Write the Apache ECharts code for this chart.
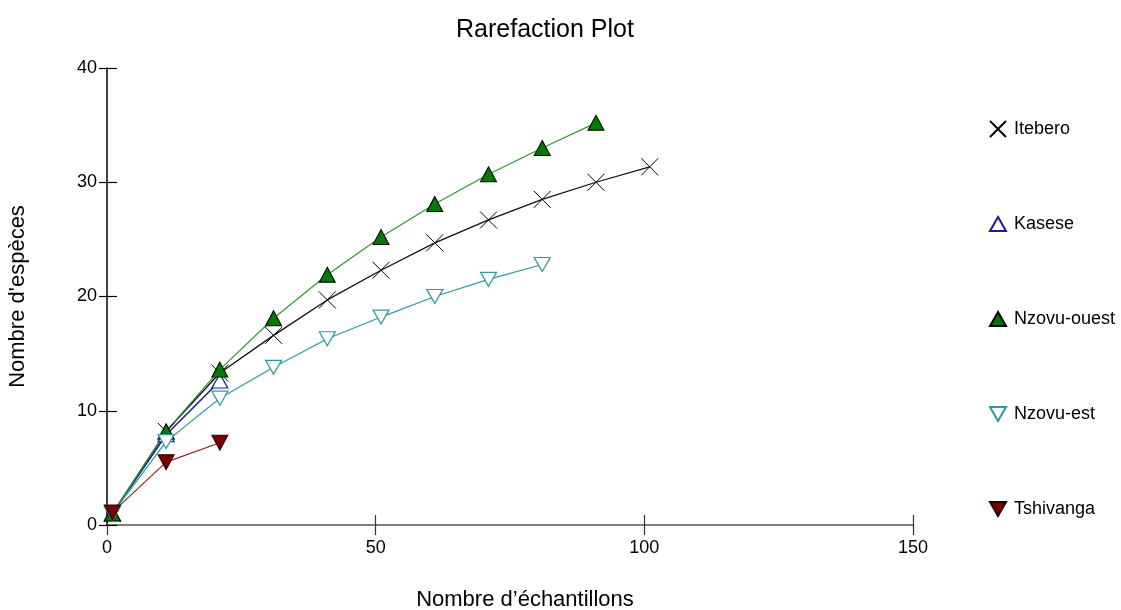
<!DOCTYPE html>
<html>
<head>
<meta charset="utf-8">
<script src="https://cdn.jsdelivr.net/npm/echarts@6/dist/echarts.min.js"></script>
<style>
  html, body { margin: 0; padding: 0; background: #fff; }
  #chart { width: 1121px; height: 610px; }
</style>
</head>
<body>
<div id="chart"></div>
<script>
// samples drawn (x) for each site
const samples = [1, 11, 21, 31, 41, 51, 61, 71, 81, 91, 101];

const itebero = [1, 8.2, 13.3, 16.6, 19.7, 22.3, 24.7, 26.7, 28.5, 30.0, 31.35];
const kasese = [1, 7.9, 12.6];
const nzovuOuest = [1, 8.2, 13.6, 18.1, 21.9, 25.2, 28.1, 30.7, 33.0, 35.2];
const nzovuEst = [1, 7.3, 11.1, 13.8, 16.3, 18.2, 20.0, 21.5, 22.8];
const tshivanga = [1.1, 5.5, 7.2];

const xTicks = [0, 50, 100, 150];
const yTicks = [0, 10, 20, 30, 40];

const pair = (vals) => vals.map((v, i) => [samples[i], v]);

const crossPath = "path://M0,0L16,16M16,0L0,16";
const downTri = "path://M0,0L16,0L8,14Z";
const upTri = "path://M8,0L16,14L0,14Z";

const font = "Liberation Sans, Arial, sans-serif";

const series = [
  {
    name: "Itebero",
    data: pair(itebero),
    symbol: crossPath,
    symbolSize: 17,
    lineStyle: { color: "#111", width: 1.3 },
    itemStyle: { color: "#000", borderColor: "#000", borderWidth: 1 },
  },
  {
    name: "Kasese",
    data: pair(kasese),
    symbol: upTri,
    symbolSize: [16, 14],
    lineStyle: { color: "#1c1c9a", width: 1.6 },
    itemStyle: { color: "#fff", borderColor: "#1c1c9a", borderWidth: 1.2 },
  },
  {
    name: "Nzovu-ouest",
    data: pair(nzovuOuest),
    symbol: upTri,
    symbolSize: [16, 15],
    lineStyle: { color: "#2a9a2a", width: 1.2 },
    itemStyle: { color: "#007a00", borderColor: "#000", borderWidth: 1 },
  },
  {
    name: "Nzovu-est",
    data: pair(nzovuEst),
    symbol: downTri,
    symbolSize: [16, 14],
    lineStyle: { color: "#2a9c9c", width: 1.2 },
    itemStyle: { color: "#fff", borderColor: "#2a9c9c", borderWidth: 1.2 },
  },
  {
    name: "Tshivanga",
    data: pair(tshivanga),
    symbol: downTri,
    symbolSize: [16, 15],
    lineStyle: { color: "#a61c1c", width: 1.2 },
    itemStyle: { color: "#7a0000", borderColor: "#2a0000", borderWidth: 1 },
  },
].map((s) => Object.assign({ type: "line", showAllSymbol: true, silent: true }, s));

const axisCommon = (extra) =>
  Object.assign(
    {
      type: "value",
      splitLine: { show: false },
    },
    extra
  );

const option = {
  animation: false,
  backgroundColor: "#fff",
  title: {
    text: "Rarefaction Plot",
    left: 451,
    top: 13,
    textStyle: { fontFamily: font, fontSize: 25, fontWeight: "normal", color: "#000" },
  },
  legend: {
    orient: "vertical",
    left: 984,
    top: 115,
    itemWidth: 16,
    itemHeight: 16,
    itemGap: 77,
    textStyle: { fontFamily: font, fontSize: 18, color: "#000", padding: [0, 0, 0, 3] },
    data: series.map((s) => ({ name: s.name, icon: s.symbol })),
  },
  grid: { left: 107, right: 208, top: 68, bottom: 85, outerBoundsMode: "none", containLabel: false },
  xAxis: [
    axisCommon({
      min: xTicks[0],
      max: xTicks[xTicks.length - 1],
      interval: 50,
      position: "bottom",
      name: "Nombre d’échantillons",
      nameLocation: "middle",
      nameGap: 64,
      nameTextStyle: { fontFamily: font, fontSize: 22, color: "#000", padding: [0, 0, 0, 30] },
      axisLine: { lineStyle: { color: "#555", width: 1.5 } },
      axisTick: { length: 10, lineStyle: { color: "#333", width: 1.2 } },
      axisLabel: { margin: 14, fontFamily: font, fontSize: 18, color: "#000" },
    }),
    axisCommon({
      min: xTicks[0],
      max: xTicks[xTicks.length - 1],
      interval: 50,
      position: "bottom",
      axisLine: { show: false },
      axisTick: { inside: true, length: 10, lineStyle: { color: "#333", width: 1.2 } },
      axisLabel: { show: false },
    }),
  ],
  yAxis: [
    axisCommon({
      min: yTicks[0],
      max: yTicks[yTicks.length - 1],
      interval: 10,
      position: "left",
      name: "Nombre d'espèces",
      nameLocation: "middle",
      nameGap: 78,
      nameTextStyle: { fontFamily: font, fontSize: 22, color: "#000" },
      axisLine: { lineStyle: { color: "#000", width: 1.5 } },
      axisTick: { length: 8, lineStyle: { color: "#000", width: 1.2 } },
      axisLabel: { margin: 10, fontFamily: font, fontSize: 18, color: "#000" },
    }),
    axisCommon({
      min: yTicks[0],
      max: yTicks[yTicks.length - 1],
      interval: 10,
      position: "left",
      axisLine: { show: false },
      axisTick: { inside: true, length: 10, lineStyle: { color: "#000", width: 1.2 } },
      axisLabel: { show: false },
    }),
  ],
  series: series,
};

const chart = echarts.init(document.getElementById("chart"));
chart.setOption(option);
</script>
</body>
</html>
